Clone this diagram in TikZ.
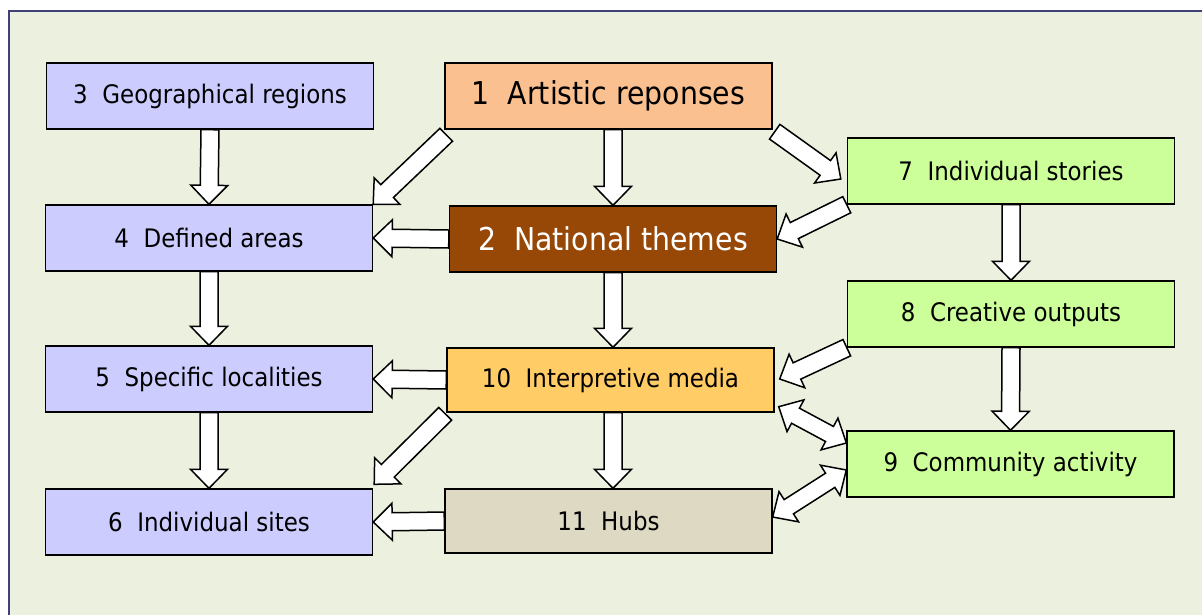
\documentclass[tikz,border=0pt]{standalone}
\usepackage{fontspec}
\setmainfont[FakeStretch=0.9]{DejaVu Sans}
\usetikzlibrary{calc}

\definecolor{panelbg}{HTML}{EBF1DE}
\definecolor{framecol}{HTML}{40407A}
\definecolor{placecol}{HTML}{CCCCFF}
\definecolor{artcol}{HTML}{FAC090}
\definecolor{themecol}{HTML}{974706}
\definecolor{storycol}{HTML}{CCFF99}
\definecolor{mediacol}{HTML}{FFCC66}
\definecolor{hubcol}{HTML}{DDD9C3}

\tikzset{
	box/.style={draw=black, line width=1.4pt, minimum width=327pt, minimum height=66pt,
		inner sep=0pt, font=\fontsize{25.5}{30}\selectfont},
	bigbox/.style={box, font=\fontsize{31.5}{37}\selectfont},
	fatarrow/.style={draw=black, fill=white, line width=1.5pt, line join=miter,
		to path={let \p1=(\tikztostart), \p2=(\tikztotarget),
			\n1={atan2(\y2-\y1,\x2-\x1)}, \n2={veclen(\x2-\x1,\y2-\y1)} in
			(\p1) ++(\n1+90:9pt) -- ++(\n1:\n2-19pt) -- ++(\n1+90:9.5pt) -- (\p2)
			-- ($(\p2)+(\n1+180:19pt)+(\n1-90:18.5pt)$) -- ++(\n1+90:9.5pt)
			-- ++(\n1+180:\n2-19pt) -- cycle}},
	fatboth/.style={fatarrow,
		to path={let \p1=(\tikztostart), \p2=(\tikztotarget),
			\n1={atan2(\y2-\y1,\x2-\x1)}, \n2={veclen(\x2-\x1,\y2-\y1)} in
			(\p1) -- ($(\p1)+(\n1:19pt)+(\n1+90:18pt)$) -- ++(\n1-90:9.5pt)
			-- ++(\n1:\n2-38pt) -- ++(\n1+90:9.5pt) -- (\p2)
			-- ($(\p2)+(\n1+180:19pt)+(\n1-90:18pt)$) -- ++(\n1+90:9.5pt)
			-- ++(\n1+180:\n2-38pt) -- ++(\n1-90:9.5pt) -- cycle}},
}

\begin{document}
\begin{tikzpicture}[x=1pt, y=-1pt]
		\useasboundingbox (0,0) rectangle (1202,614);

		% Panel behind everything
		\draw[fill=panelbg, draw=framecol, line width=2pt] (9,11) rectangle (1230,640);

		% Boxes, left column
		\node[box, fill=placecol] (b3) at (210,96) {3~~Geographical regions};
		\node[box, fill=placecol] (b4) at (209,238) {4~~Defined areas};
		\node[box, fill=placecol] (b5) at (209,379) {5~~Specific localities};
		\node[box, fill=placecol] (b6) at (209,522) {6~~Individual sites};

		% Boxes, middle column
		\node[bigbox, fill=artcol] (b1) at (608.5,96) {1~~Artistic reponses};
		\node[bigbox, fill=themecol, text=white] (b2) at (613,239) {2~~National themes};
		\node[box, fill=mediacol, minimum height=64pt] (b10) at (610.5,380) {10~~Interpretive media};
		\node[box, fill=hubcol, minimum height=64pt] (b11) at (608.5,521) {11~~Hubs};

		% Boxes, right column
		\node[box, fill=storycol] (b7) at (1011,171) {7~~Individual stories};
		\node[box, fill=storycol] (b8) at (1011,314) {8~~Creative outputs};
		\node[box, fill=storycol] (b9) at (1010.5,464) {9~~Community activity};

		% Arrow ends that sit off the anchors
		\coordinate (m12) at (b2.north |- b1.south);
		\coordinate (m210) at (b2.south |- b10.north);
		\coordinate (m1011) at (b2.south |- b10.south);
		\coordinate (m11) at (b2.south |- b11.north);
		\coordinate (t14) at ($(b1.south west)+(2,5)$);
		\coordinate (t17) at ($(b1.south east)+(2,2)$);
		\coordinate (h17) at ($(b7.west)+(-6,8)$);
		\coordinate (h810) at ($(b10.east)+(5,-1)$);
		\coordinate (t106) at ($(b10.south west)+(-1,1)$);
		\coordinate (h106) at ($(b6.north east)+(1,-4)$);
		\coordinate (e10) at ($(b10.south east)+(4,-6)$);
		\coordinate (e9a) at ($(b9.west)+(0,-21)$);
		\coordinate (e11) at ($(b11.east)+(0,-4)$);
		\coordinate (e9b) at ($(b9.west)+(0,6)$);

		% Down the columns
		\draw[fatarrow] (b3.south) to (b4.north);
		\draw[fatarrow] (b4.south) to (b5.north);
		\draw[fatarrow] (b5.south) to (b6.north);
		\draw[fatarrow] (m12) to (b2.north);
		\draw[fatarrow] (b2.south) to (m210);
		\draw[fatarrow] (m1011) to (m11);
		\draw[fatarrow] (b7.south) to (b8.north);
		\draw[fatarrow] (b8.south) to (b9.north);

		% Towards the left column
		\draw[fatarrow] (b2.west) to (b4.east);
		\draw[fatarrow] (b10.west) to (b5.east);
		\draw[fatarrow] (b11.west) to (b6.east);
		\draw[fatarrow] (t14) to (b4.north east);
		\draw[fatarrow] (t106) to (h106);

		% Right side
		\draw[fatarrow] (t17) to (h17);
		\draw[fatarrow] (b7.south west) to (b2.east);
		\draw[fatarrow] (b8.south west) to (h810);
		\draw[fatboth] (e10) to (e9a);
		\draw[fatboth] (e11) to (e9b);
	\end{tikzpicture}
\end{document}
